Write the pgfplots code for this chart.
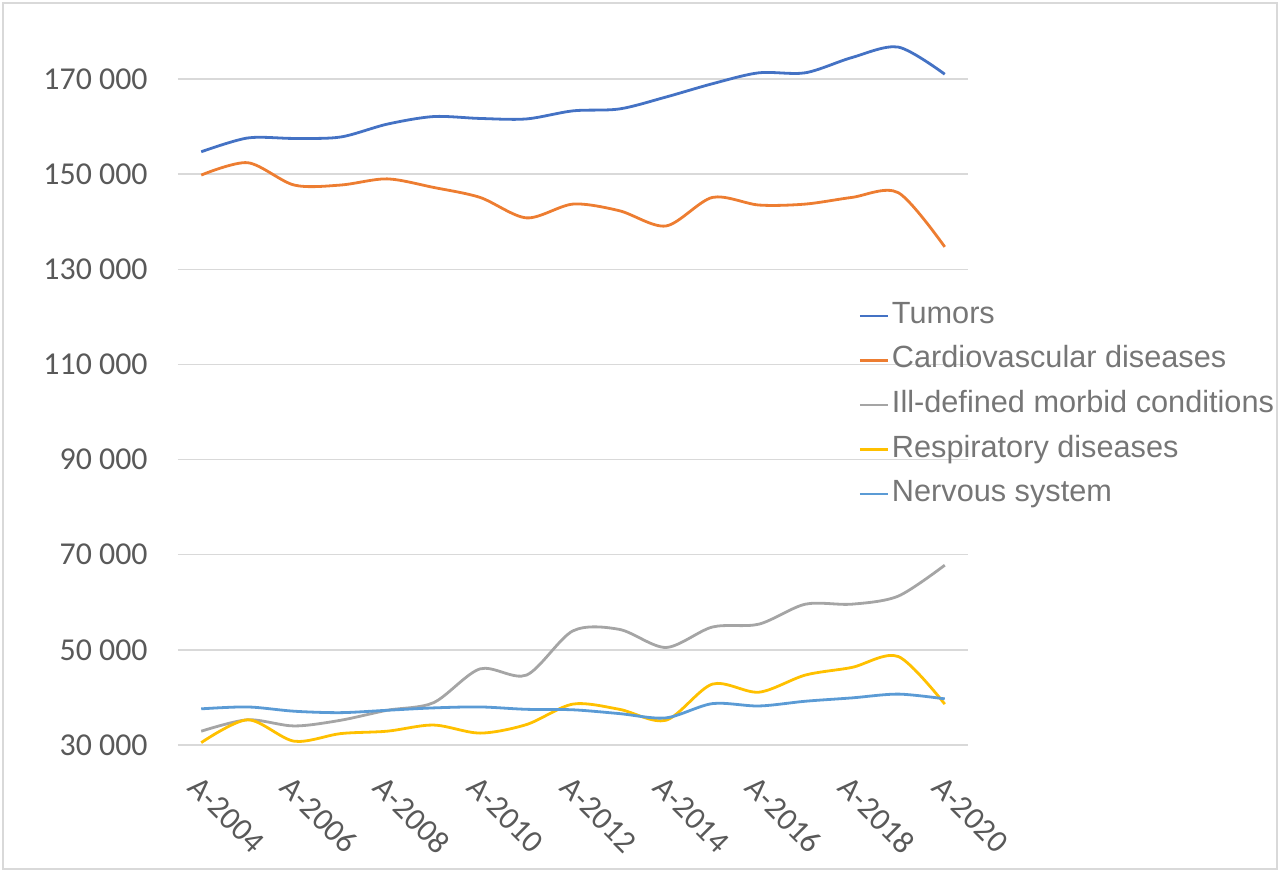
\documentclass[border=0pt]{standalone}
\usepackage{fontspec}
\setmainfont{Carlito}
\newfontfamily\legfont{Liberation Sans}
\usepackage{pgfplots}
\pgfplotsset{compat=1.18}
\definecolor{cTum}{HTML}{4472C4}
\definecolor{cCar}{HTML}{ED7D31}
\definecolor{cIll}{HTML}{A5A5A5}
\definecolor{cRes}{HTML}{FFC000}
\definecolor{cNer}{HTML}{5B9BD5}
\definecolor{gridc}{HTML}{D9D9D9}
\definecolor{tickc}{HTML}{595959}
\definecolor{legc}{HTML}{767676}
\pgfplotstableread{
x tum car ill res ner
0  154700 149800 32900 30500 37600
1  157600 152400 35300 35300 38000
2  157500 147700 34000 30800 37100
3  157800 147700 35200 32400 36800
4  160500 149000 37300 32900 37300
5  162100 147200 38900 34200 37800
6  161700 145100 46000 32500 38000
7  161600 140800 44700 34300 37500
8  163300 143700 54000 38600 37400
9  163700 142300 54300 37500 36600
10 166200 139100 50500 35200 35700
11 169000 145100 54800 42800 38700
12 171300 143500 55400 41100 38200
13 171300 143700 59600 44700 39200
14 174500 145100 59600 46300 39900
15 176700 146100 61300 48600 40700
16 171000 134700 67800 38600 39700
}\datatable
\begin{document}
\begin{tikzpicture}
\useasboundingbox (-89bp,-64bp) rectangle (551bp,372.5bp);
\draw[color=gridc, line width=0.75bp] (-87.5bp,-62bp) rectangle (549.5bp,371bp);
\begin{axis}[
  at={(0,0)}, anchor=south west,
  scale only axis, width=395bp, height=356.8bp,
  xmin=-0.5, xmax=16.5, ymin=30000, ymax=180000,
  axis line style={draw=none},
  major tick length=0pt,
  ytick={30000,50000,70000,90000,110000,130000,150000,170000},
  yticklabels={30 000,50 000,70 000,90 000,110 000,130 000,150 000,170 000},
  ymajorgrids, grid style={color=gridc, line width=0.75bp},
  xtick={0,2,4,6,8,10,12,14,16},
  xticklabels={A-2004,A-2006,A-2008,A-2010,A-2012,A-2014,A-2016,A-2018,A-2020},
  ticklabel style={font=\fontsize{16}{19}\selectfont, text=tickc},
  yticklabel style={anchor=east, inner sep=0pt, xshift=-15bp},
  xticklabel style={rotate=-45, anchor=north west, inner sep=0pt},
  xticklabel shift=14.5bp,
  scaled y ticks=false,
  clip=false,
  legend style={at={(0.861,0.6264)}, anchor=north west, draw=none, fill=none,
    font=\legfont\fontsize{15.4}{18}\selectfont, row sep=4.8bp, inner sep=0pt,
    nodes={text=legc, inner sep=1.5bp, text height=11bp, text depth=3.5bp}},
  legend cell align=left,
  legend image code/.code={\draw[#1, line width=1.2bp] (0bp,0bp) -- (14bp,0bp);},
  every axis plot/.append style={line width=1.4bp, smooth, tension=0.5, mark=none},
]
\addplot[color=cTum] table[x=x, y=tum] {\datatable};
\addlegendentry{Tumors}
\addplot[color=cCar] table[x=x, y=car] {\datatable};
\addlegendentry{Cardiovascular diseases}
\addplot[color=cIll] table[x=x, y=ill] {\datatable};
\addlegendentry{Ill-defined morbid conditions}
\addplot[color=cRes] table[x=x, y=res] {\datatable};
\addlegendentry{Respiratory diseases}
\addplot[color=cNer] table[x=x, y=ner] {\datatable};
\addlegendentry{Nervous system}
\end{axis}
\end{tikzpicture}
\end{document}
